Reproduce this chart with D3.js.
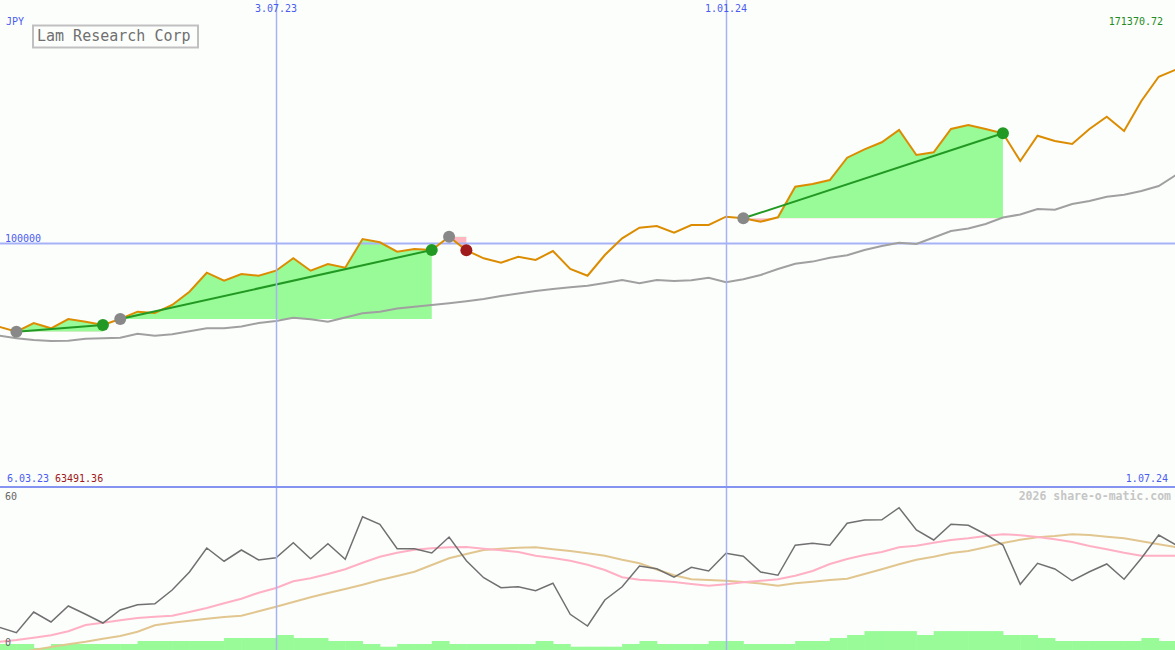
<!DOCTYPE html>
<html>
<head>
<meta charset="utf-8">
<script src="https://cdn.jsdelivr.net/npm/d3@7"></script>
<style>
  body { margin: 0; background: #fcfefc; }
  svg { display: block; font-family: "DejaVu Sans Mono", monospace; }
</style>
</head>
<body>
<svg width="1175" height="650"></svg>
<script>
// weekly closes, 13.03.23 .. 1.07.24 (JPY)
var price = [65555, 63491.36, 67078, 64897, 68724, 67613, 66255, 68724, 71728, 71193,
  74485, 79958, 87777, 84486, 87242, 86543, 88601, 93703, 88601, 91357,
  89835, 101646, 100288, 96420, 97530, 97119, 102592, 96995, 93703, 91892,
  94362, 93004, 96707, 89300, 86543, 95061, 101934, 106296, 106995, 104238,
  107407, 107407, 110823, 110164, 108765, 110576, 123168, 124279, 125925, 135102,
  138559, 141440, 146501, 136213, 137324, 146913, 148559, 146913, 145143, 133744,
  144144, 141974, 140740, 146913, 151976, 146090, 158435, 168436, 171370.72];

// long moving average (grey)
var longAvg = [61852, 60782, 60082, 59670, 59794, 60576, 60782, 61029, 62675, 61852,
  62469, 63662, 64897, 64897, 65637, 67078, 67901, 69259, 68600, 67613,
  69341, 71070, 71728, 73045, 73786, 74485, 75185, 76008, 76954, 78189,
  79218, 80246, 81069, 81769, 82427, 83538, 84773, 83414, 84773, 84362,
  84650, 85720, 83826, 85061, 86831, 89300, 91481, 92345, 93950, 94938,
  97119, 98765, 100123, 99588, 102263, 104938, 105966, 107818, 110493, 111728,
  113991, 113703, 116049, 117283, 119053, 119876, 121398, 123456, 127983];

// lower panel
var osc = [7.1, 4.9, 13.2, 9.2, 15.6, 12.3, 8.8, 14.0, 16.1, 16.5,
  22.0, 29.2, 38.8, 33.5, 38.0, 34.0, 34.9, 40.9, 34.5, 40.5,
  34.3, 51.3, 48.3, 38.5, 38.5, 36.8, 43.2, 33.7, 26.9, 22.9,
  23.3, 21.7, 24.7, 12.3, 7.6, 18.0, 23.3, 31.6, 30.5, 27.1,
  31.1, 29.6, 36.7, 35.5, 29.2, 27.9, 39.9, 40.7, 39.9, 48.7,
  50.0, 50.1, 54.9, 46.0, 42.0, 48.3, 47.9, 44.3, 40.0, 24.3,
  32.7, 30.4, 25.7, 29.3, 32.4, 26.3, 34.7, 44.0, 40.0];
var oscFast = [1.3, 2.0, 2.9, 3.9, 5.5, 8.0, 8.9, 9.9, 10.8, 11.3,
  11.7, 13.2, 14.8, 16.7, 18.5, 20.9, 22.8, 25.5, 26.7, 28.4,
  30.3, 32.9, 35.3, 36.9, 38.1, 38.7, 39.1, 39.2, 38.5, 37.9,
  37.2, 35.7, 34.8, 33.7, 32.1, 30.0, 27.1, 26.1, 25.7, 25.2,
  24.4, 23.7, 24.3, 25.1, 25.7, 26.3, 27.7, 29.6, 32.4, 34.4,
  36.0, 37.2, 39.1, 39.7, 40.9, 42.0, 42.7, 43.6, 44.3, 43.9,
  43.2, 42.3, 41.2, 39.6, 38.3, 36.9, 35.7, 35.7, 35.7];
var oscSlow = [-4.0, -3.1, -2.0, -0.8, 0.3, 1.3, 2.5, 3.6, 5.3, 7.9,
  8.9, 9.7, 10.5, 11.2, 11.7, 13.5, 15.3, 17.2, 19.1, 20.8,
  22.4, 24.1, 26.0, 27.6, 29.3, 32.0, 34.7, 36.4, 38.0, 38.5,
  38.9, 39.1, 38.3, 37.6, 36.7, 35.7, 34.1, 32.7, 30.2, 27.9,
  26.3, 26.0, 25.7, 25.2, 24.6, 23.7, 24.7, 25.3, 26.0, 26.5,
  28.4, 30.3, 32.3, 34.1, 35.3, 36.8, 37.6, 39.1, 40.8, 42.1,
  43.1, 43.6, 44.3, 44.0, 43.3, 42.7, 41.5, 40.3, 39.1];
var volume = [2, 2, 0.7, 2, 2, 2, 2, 2, 3, 3,
  3, 3, 3, 4, 4, 4, 5, 4, 4, 3,
  3, 2, 1.1, 2, 2, 3, 2, 2, 2, 2,
  2, 3, 2, 1.1, 1.1, 1.1, 2, 3, 2, 2,
  2, 3, 3, 2, 2, 2, 3, 3, 4, 5,
  6.3, 6.3, 6.3, 5, 6.3, 6.3, 6.3, 6.3, 5, 5,
  4, 3, 3, 3, 3, 3, 4, 3, 3];

// trades
var entryDates = ["2023-03-20", "2023-05-01", "2023-09-11", "2024-01-08"];
var exitDates  = ["2023-04-24", "2023-09-04", "2023-09-18", "2024-04-22"];

var xTickDates  = ["2023-07-03", "2024-01-01"];
var xTickLabels = ["3.07.23", "1.01.24"];
var yTicks = [100000];

var parse = d3.timeParse("%Y-%m-%d");
var dates = d3.timeMonday.range(new Date(2023, 2, 13), new Date(2024, 6, 2));

var data = dates.map(function(d, i) {
  return {date: d, price: price[i], avg: longAvg[i], osc: osc[i],
    fast: oscFast[i], slow: oscSlow[i], vol: volume[i]};
});

var svg = d3.select("svg");
var W = 1175, H = 650, mainBottom = 487;

var x = d3.scaleTime()
  .domain([parse("2023-07-03"), parse("2024-01-01")])
  .range([276, 726]);
var y = d3.scaleLinear().domain([0, 200000]).range([486, 0]);
var y2 = d3.scaleLinear().domain([0, 60]).range([645, 495]);
var yVol = d3.scaleLinear().domain([0, 10]).range([0, 30]);

var blue = "#a6b2f6", textBlue = "#4a5cf0";

svg.append("rect").attr("width", W).attr("height", H).attr("fill", "#fcfefc");

var defs = svg.append("defs");
defs.append("clipPath").attr("id", "mainClip")
  .append("rect").attr("x", 0).attr("y", 0).attr("width", W).attr("height", mainBottom);
defs.append("clipPath").attr("id", "lowClip")
  .append("rect").attr("x", 0).attr("y", mainBottom + 1).attr("width", W).attr("height", H - mainBottom);

var main = svg.append("g").attr("clip-path", "url(#mainClip)");
var low = svg.append("g").attr("clip-path", "url(#lowClip)");

// trade fills
var idx = function(s) {
  var t = parse(s).getTime();
  return data.findIndex(function(d) { return d.date.getTime() == t; });
};

entryDates.forEach(function(s, i) {
  var a = idx(s), b = idx(exitDates[i]);
  var level = data[a].price;
  var seg = data.slice(a, b + 1);
  var area = d3.area()
    .x(function(d) { return x(d.date); })
    .y0(y(level))
    .y1(function(d) { return y(d.price); });

  defs.append("clipPath").attr("id", "up" + i)
    .append("rect").attr("x", 0).attr("y", 0).attr("width", W).attr("height", y(level));
  defs.append("clipPath").attr("id", "dn" + i)
    .append("rect").attr("x", 0).attr("y", y(level)).attr("width", W).attr("height", mainBottom - y(level));

  main.append("path").datum(seg).attr("d", area)
    .attr("fill", "#98fb98").attr("clip-path", "url(#up" + i + ")");
  main.append("path").datum(seg).attr("d", area)
    .attr("fill", "#ffb6c1").attr("clip-path", "url(#dn" + i + ")");
});

// grid
main.selectAll(".hgrid")
  .data(yTicks)
  .enter()
  .append("line")
  .attr("x1", 0).attr("x2", W)
  .attr("y1", function(d) { return Math.round(y(d)) + 0.5; })
  .attr("y2", function(d) { return Math.round(y(d)) + 0.5; })
  .attr("stroke", blue).attr("stroke-width", 2);

svg.selectAll(".vgrid")
  .data(xTickDates)
  .enter()
  .append("line")
  .attr("x1", function(d) { return Math.round(x(parse(d))) + 0.5; })
  .attr("x2", function(d) { return Math.round(x(parse(d))) + 0.5; })
  .attr("y1", 0).attr("y2", H)
  .attr("stroke", blue).attr("stroke-width", 1.5);

// long average
main.append("path").datum(data)
  .attr("d", d3.line().x(function(d) { return x(d.date); }).y(function(d) { return y(d.avg); }))
  .attr("fill", "none").attr("stroke", "#a0a0a0").attr("stroke-width", 2);

// price
main.append("path").datum(data)
  .attr("d", d3.line().x(function(d) { return x(d.date); }).y(function(d) { return y(d.price); }))
  .attr("fill", "none").attr("stroke", "#dc8c00").attr("stroke-width", 2);

// trade lines + markers
entryDates.forEach(function(s, i) {
  var a = data[idx(s)], b = data[idx(exitDates[i])];
  var win = b.price > a.price;
  if (win) {
    main.append("line")
      .attr("x1", x(a.date)).attr("y1", y(a.price))
      .attr("x2", x(b.date)).attr("y2", y(b.price))
      .attr("stroke", "#229922").attr("stroke-width", 2);
  }
  main.append("circle").attr("cx", x(b.date)).attr("cy", y(b.price)).attr("r", 6)
    .attr("fill", win ? "#229922" : "#a01c1c");
  main.append("circle").attr("cx", x(a.date)).attr("cy", y(a.price)).attr("r", 6)
    .attr("fill", "#888888");
});

// lower panel
low.selectAll(".vol")
  .data(data)
  .enter()
  .append("rect")
  .attr("x", function(d) { return x(d.date); })
  .attr("width", function(d) { return x(d3.timeWeek.offset(d.date, 1)) - x(d.date) + 0.5; })
  .attr("y", function(d) { return H - yVol(d.vol); })
  .attr("height", function(d) { return yVol(d.vol); })
  .attr("fill", "#98fb98");

var oscLine = function(key) {
  return d3.line().x(function(d) { return x(d.date); }).y(function(d) { return y2(d[key]); });
};
low.append("path").datum(data).attr("d", oscLine("slow"))
  .attr("fill", "none").attr("stroke", "#e2c690").attr("stroke-width", 2);
low.append("path").datum(data).attr("d", oscLine("fast"))
  .attr("fill", "none").attr("stroke", "#ffb0c4").attr("stroke-width", 2);
low.append("path").datum(data).attr("d", oscLine("osc"))
  .attr("fill", "none").attr("stroke", "#707070").attr("stroke-width", 1.5);

// panel border
svg.append("line").attr("x1", 0).attr("x2", W).attr("y1", mainBottom).attr("y2", mainBottom)
  .attr("stroke", "#8494f0").attr("stroke-width", 2);

// labels
var txt = function(t, px, py, col, anchor, size) {
  return svg.append("text").attr("x", px).attr("y", py).text(t)
    .attr("fill", col).attr("font-size", size || 10)
    .attr("text-anchor", anchor || "start");
};

txt("JPY", 6, 25, textBlue);
xTickDates.forEach(function(d, i) {
  txt(xTickLabels[i], x(parse(d)), 12, textBlue, "middle");
});
txt(d3.max(price).toFixed(2), 1163, 25, "#228b22", "end");
yTicks.forEach(function(v) {
  txt(d3.format("d")(v), 5, y(v) - 1, textBlue);
});
txt("6.03.23", 7, 482, textBlue);
txt(d3.min(price).toFixed(2), 55, 482, "#a01818");
txt("1.07.24", 1168, 482, textBlue, "end");

txt("60", 5, 500, "#666666");
txt("0", 5, 646, "#666666");
txt("2026 share-o-matic.com", 1171, 500, "#c6c6c6", "end", 11.5).attr("font-weight", "bold");

// title box
svg.append("rect").attr("x", 33).attr("y", 25.5).attr("width", 165).attr("height", 22)
  .attr("fill", "#fcfefc").attr("stroke", "#c0c0c0").attr("stroke-width", 2);
txt("Lam Research Corp", 37, 41, "#707070", "start", 15);
</script>
</body>
</html>
